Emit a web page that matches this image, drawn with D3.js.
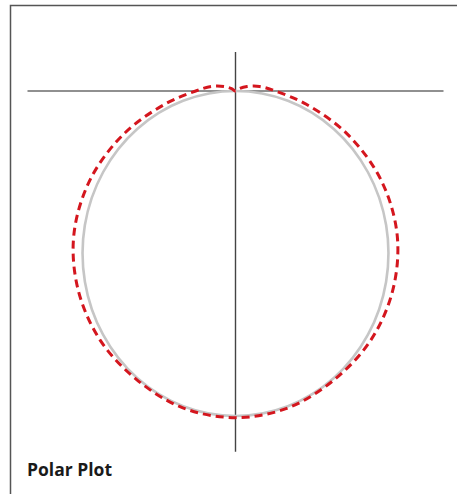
<!DOCTYPE html>
<html>
<head>
  <meta charset="utf-8">
  <title>Polar Plot</title>
  <script src="https://cdn.jsdelivr.net/npm/d3@7/dist/d3.min.js"></script>
  <style>
    body { margin: 0; background: #fff; }
    .title { font-family: "Open Sans", Inter, sans-serif; font-weight: 700; }
  </style>
</head>
<body>
<svg id="chart" width="457" height="494"></svg>
<script>
  // angles in degrees, 0 = straight down from the origin
  var refAngles = [-80, -70, -60, -50, -40, -30, -20, -10, 0,
                   10, 20, 30, 40, 50, 60, 70, 80, 90];
  var reference = [0.174, 0.342, 0.5, 0.643, 0.766, 0.866, 0.94, 0.985, 1,
                   0.985, 0.94, 0.866, 0.766, 0.643, 0.5, 0.342, 0.174, 0];

  var measAngles = [-120, -110, -100, -90, -80, -70, -60, -50, -40, -30, -20, -10, 0,
                    10, 20, 30, 40, 50, 60, 70, 80, 90, 100, 110, 120, 180];
  var measured = [0.015, 0.04, 0.08, 0.13, 0.235, 0.39, 0.55, 0.69, 0.80, 0.885, 0.945, 0.99, 1.005,
                  0.99, 0.945, 0.885, 0.80, 0.69, 0.55, 0.39, 0.235, 0.13, 0.08, 0.04, 0.015, 0];

  var svg = d3.select('#chart');

  svg.append('rect')
    .attr('x', 10.5).attr('y', 5.5)
    .attr('width', 470).attr('height', 520)
    .attr('fill', 'none')
    .attr('stroke', '#555')
    .attr('stroke-width', 1.5);

  var x = d3.scaleLinear().domain([-0.68, 0.68]).range([27.5, 443.5]);
  var y = d3.scaleLinear().domain([0.12, -1.11]).range([52, 451.75]);

  // axes through the origin
  svg.append('line')
    .attr('x1', x(-0.68)).attr('x2', x(0.68))
    .attr('y1', y(0)).attr('y2', y(0))
    .attr('stroke', '#222').attr('stroke-width', 1.2);
  svg.append('line')
    .attr('x1', x(0)).attr('x2', x(0))
    .attr('y1', y(0.12)).attr('y2', y(-1.11))
    .attr('stroke', '#444').attr('stroke-width', 1.4);

  var toPoints = function(angles, radii) {
    return angles.map(function(a, i) {
      var t = a * Math.PI / 180;
      return [radii[i] * Math.sin(t), -radii[i] * Math.cos(t)];
    });
  };

  var line = d3.line()
    .x(function(d) { return x(d[0]); })
    .y(function(d) { return y(d[1]); })
    .curve(d3.curveCatmullRomClosed);

  svg.append('path')
    .datum(toPoints(refAngles, reference))
    .attr('d', line)
    .attr('fill', 'none')
    .attr('stroke', '#c6c6c6')
    .attr('stroke-width', 2.6);

  svg.append('path')
    .datum(toPoints(measAngles, measured))
    .attr('d', line)
    .attr('fill', 'none')
    .attr('stroke', '#d4161e')
    .attr('stroke-width', 3)
    .attr('stroke-dasharray', '8,5');

  svg.append('text')
    .attr('class', 'title')
    .attr('x', 27).attr('y', 476)
    .attr('font-size', 17.5)
    .attr('fill', '#1a1a1a')
    .text('Polar Plot');
</script>
</body>
</html>
